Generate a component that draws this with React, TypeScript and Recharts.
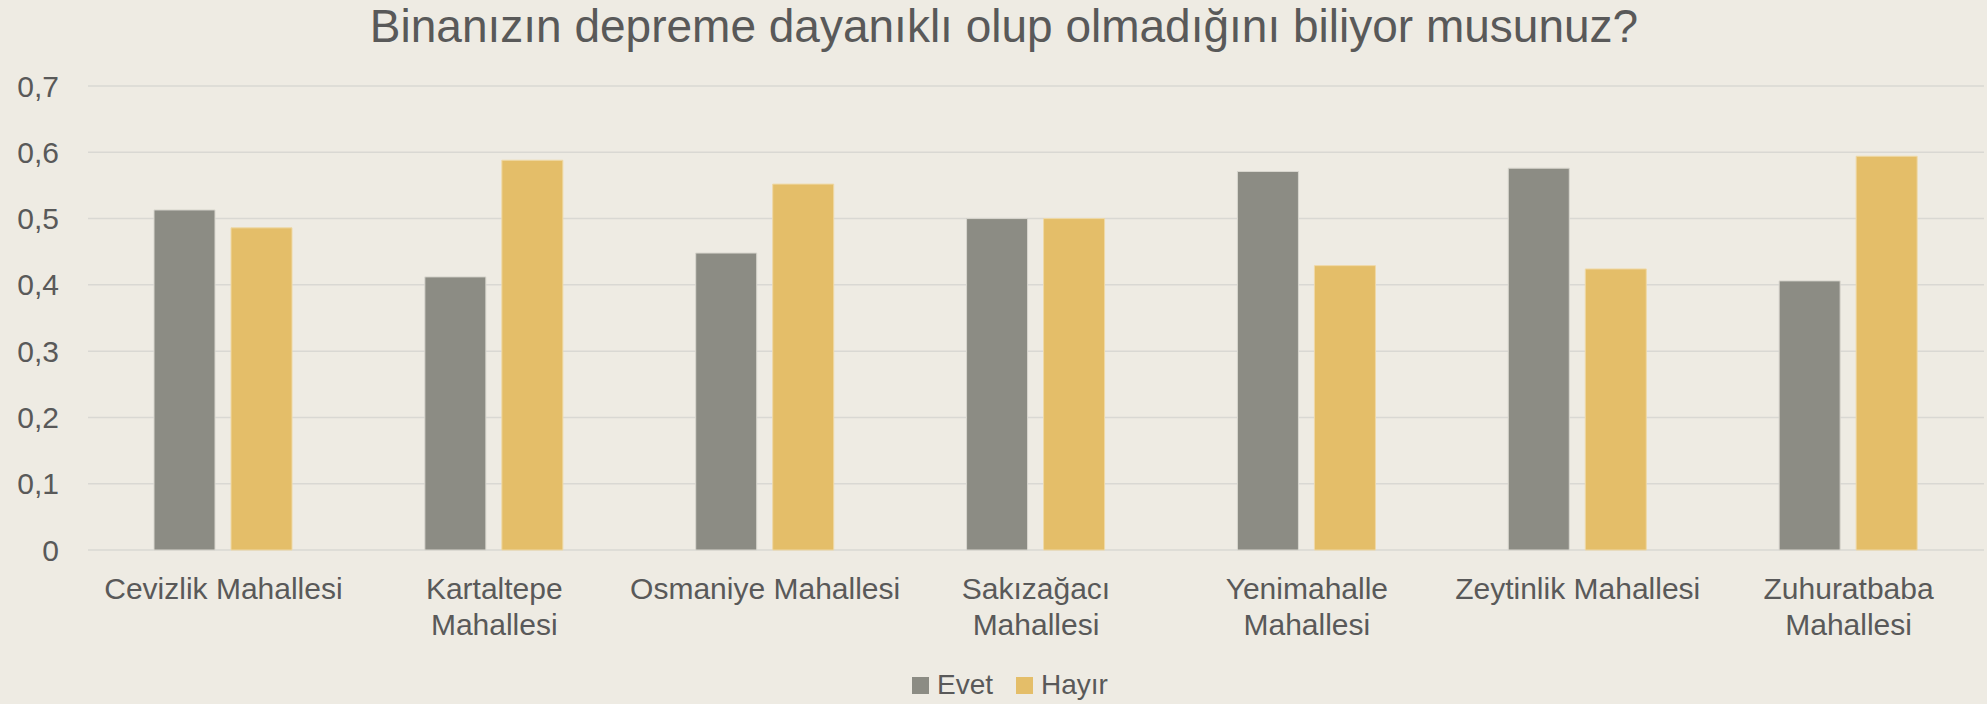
import { BarChart, Bar, XAxis, YAxis, CartesianGrid } from 'recharts'

const categories = [
  'Cevizlik Mahallesi',
  'Kartaltepe Mahallesi',
  'Osmaniye Mahallesi',
  'Sakızağacı Mahallesi',
  'Yenimahalle Mahallesi',
  'Zeytinlik Mahallesi',
  'Zuhuratbaba Mahallesi',
]
// how each category label is broken over lines under the axis
const tickLines = [
  ['Cevizlik Mahallesi'],
  ['Kartaltepe', 'Mahallesi'],
  ['Osmaniye Mahallesi'],
  ['Sakızağacı', 'Mahallesi'],
  ['Yenimahalle', 'Mahallesi'],
  ['Zeytinlik Mahallesi'],
  ['Zuhuratbaba', 'Mahallesi'],
]
const evet = [0.513, 0.412, 0.448, 0.5, 0.571, 0.576, 0.406]
const hayir = [0.486, 0.588, 0.552, 0.5, 0.429, 0.424, 0.594]
const yTicks = [0, 0.1, 0.2, 0.3, 0.4, 0.5, 0.6, 0.7]

const TEXT = '#595959'
const FONT = '"Liberation Sans", Arial, sans-serif'
const GRAY = '#8C8C84'
const GOLD = '#E4BE69'

const data = categories.map((name, i) => ({ name, Evet: evet[i], Hayır: hayir[i] }))

function YTick({ x, y, payload }: { x?: number; y?: number; payload?: { value: number } }) {
  const v = payload?.value ?? 0
  const label = v === 0 ? '0' : v.toFixed(1).replace('.', ',')
  return (
    <text x={x} y={y} dy="0.35em" textAnchor="end" fill={TEXT} fontFamily={FONT} fontSize={30}>
      {label}
    </text>
  )
}

function XTick({ x, y, index }: { x?: number; y?: number; index?: number }) {
  const lines = tickLines[index ?? 0] ?? []
  return (
    <text x={x} y={(y ?? 0) + 49} textAnchor="middle" fill={TEXT} fontFamily={FONT} fontSize={30}>
      {lines.map((line, i) => (
        <tspan key={i} x={x} dy={i === 0 ? 0 : 36}>
          {line}
        </tspan>
      ))}
    </text>
  )
}

// legend drawn outside the chart so Recharts doesn't shrink the plot for it
function LegendBox() {
  const items = [
    { label: 'Evet', color: GRAY },
    { label: 'Hayır', color: GOLD },
  ]
  return (
    <div
      style={{
        position: 'absolute',
        top: 668,
        left: 912,
        display: 'flex',
        alignItems: 'center',
        fontFamily: FONT,
        fontSize: 28,
        lineHeight: '34px',
        color: TEXT,
      }}
    >
      {items.map((it) => (
        <div key={it.label} style={{ display: 'flex', alignItems: 'center', marginRight: 23 }}>
          <span style={{ width: 17, height: 17, background: it.color, display: 'inline-block', marginRight: 8 }} />
          <span>{it.label}</span>
        </div>
      ))}
    </div>
  )
}

export default function App() {
  return (
    <div style={{ position: 'absolute', top: 0, left: 0, width: 1987, height: 704, background: '#EEEBE3' }}>
      <div
        style={{
          position: 'absolute',
          top: 3,
          left: 0,
          width: 1987,
          paddingLeft: 21,
          boxSizing: 'border-box',
          textAlign: 'center',
          fontFamily: FONT,
          fontSize: 46,
          lineHeight: '46px',
          color: TEXT,
        }}
      >
        Binanızın depreme dayanıklı olup olmadığını biliyor musunuz?
      </div>
      <BarChart
        width={1987}
        height={704}
        data={data}
        margin={{ top: 86, right: 3, bottom: 124, left: 0 }}
        barSize={61}
        barGap={16}
      >
        <CartesianGrid vertical={false} stroke="#D9D8D3" strokeWidth={1.5} />
        <XAxis
          dataKey="name"
          height={30}
          axisLine={false}
          tickLine={false}
          tickSize={0}
          tickMargin={0}
          interval={0}
          tick={<XTick />}
        />
        <YAxis
          width={88}
          domain={[0, 0.7]}
          ticks={yTicks}
          axisLine={false}
          tickLine={false}
          tickSize={0}
          tickMargin={29}
          tick={<YTick />}
        />
        <Bar dataKey="Evet" fill={GRAY} stroke="#D8D6CE" strokeWidth={1} isAnimationActive={false} />
        <Bar dataKey="Hayır" fill={GOLD} stroke="#EFD9A6" strokeWidth={1} isAnimationActive={false} />
      </BarChart>
      <LegendBox />
    </div>
  )
}
